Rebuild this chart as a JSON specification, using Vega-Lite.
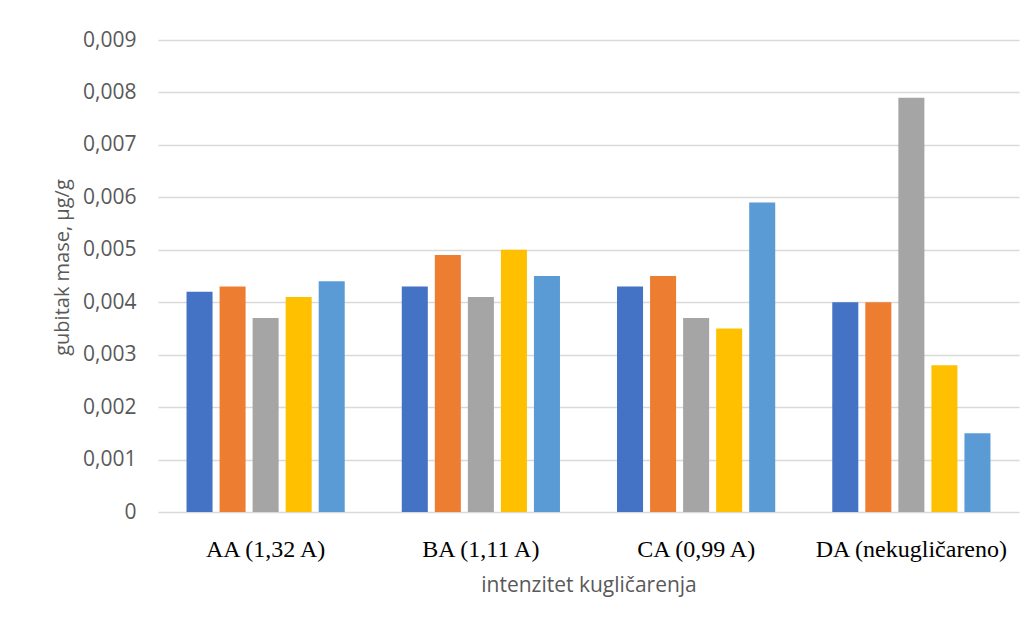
{
  "$schema": "https://vega.github.io/schema/vega-lite/v6.json",
  "width": 861,
  "height": 472,
  "autosize": {"type": "none"},
  "padding": {"left": 158, "top": 40, "right": 17, "bottom": 113},
  "background": "white",
  "config": {"view": {"stroke": null}},
  "data": {
    "values": [
      {"grupa": "AA (1,32 A)", "serija": "1", "v": 0.0042},
      {"grupa": "AA (1,32 A)", "serija": "2", "v": 0.0043},
      {"grupa": "AA (1,32 A)", "serija": "3", "v": 0.0037},
      {"grupa": "AA (1,32 A)", "serija": "4", "v": 0.0041},
      {"grupa": "AA (1,32 A)", "serija": "5", "v": 0.0044},
      {"grupa": "BA (1,11 A)", "serija": "1", "v": 0.0043},
      {"grupa": "BA (1,11 A)", "serija": "2", "v": 0.0049},
      {"grupa": "BA (1,11 A)", "serija": "3", "v": 0.0041},
      {"grupa": "BA (1,11 A)", "serija": "4", "v": 0.0050},
      {"grupa": "BA (1,11 A)", "serija": "5", "v": 0.0045},
      {"grupa": "CA (0,99 A)", "serija": "1", "v": 0.0043},
      {"grupa": "CA (0,99 A)", "serija": "2", "v": 0.0045},
      {"grupa": "CA (0,99 A)", "serija": "3", "v": 0.0037},
      {"grupa": "CA (0,99 A)", "serija": "4", "v": 0.0035},
      {"grupa": "CA (0,99 A)", "serija": "5", "v": 0.0059},
      {"grupa": "DA (nekugličareno)", "serija": "1", "v": 0.0040},
      {"grupa": "DA (nekugličareno)", "serija": "2", "v": 0.0040},
      {"grupa": "DA (nekugličareno)", "serija": "3", "v": 0.0079},
      {"grupa": "DA (nekugličareno)", "serija": "4", "v": 0.0028},
      {"grupa": "DA (nekugličareno)", "serija": "5", "v": 0.0015}
    ]
  },
  "mark": {"type": "bar"},
  "encoding": {
    "x": {
      "field": "grupa",
      "type": "nominal",
      "sort": null,
      "scale": {"paddingInner": 0.265, "paddingOuter": 0.1325},
      "axis": {
        "title": "intenzitet kugličarenja",
        "titleFont": "Open Sans",
        "titleFontSize": 21,
        "titleFontWeight": "normal",
        "titleColor": "#595959",
        "titleY": 62,
        "labelAngle": 0,
        "labelFont": "Liberation Serif",
        "labelFontSize": 24,
        "labelColor": "#000000",
        "labelPadding": 25,
        "labelLimit": 300,
        "domain": false,
        "ticks": false
      }
    },
    "xOffset": {
      "field": "serija",
      "type": "nominal",
      "scale": {"paddingInner": 0.212, "paddingOuter": 0}
    },
    "y": {
      "field": "v",
      "type": "quantitative",
      "scale": {"domain": [0, 0.009], "nice": false},
      "axis": {
        "title": "gubitak mase, µg/g",
        "titleFont": "Open Sans",
        "titleFontSize": 20,
        "titleFontWeight": "normal",
        "titleColor": "#595959",
        "titleX": -86,
        "titleY": 227,
        "values": [0, 0.001, 0.002, 0.003, 0.004, 0.005, 0.006, 0.007, 0.008, 0.009],
        "labelExpr": "datum.value == 0 ? '0' : replace(format(datum.value, '.3f'), '.', ',')",
        "labelFont": "Open Sans",
        "labelFontSize": 21,
        "labelColor": "#595959",
        "labelPadding": 22,
        "domain": false,
        "ticks": false,
        "grid": true,
        "gridColor": "#d9d9d9",
        "gridWidth": 1.3
      }
    },
    "color": {
      "field": "serija",
      "type": "nominal",
      "scale": {
        "domain": ["1", "2", "3", "4", "5"],
        "range": ["#4472C4", "#ED7D31", "#A5A5A5", "#FFC000", "#5B9BD5"]
      },
      "legend": null
    }
  }
}
